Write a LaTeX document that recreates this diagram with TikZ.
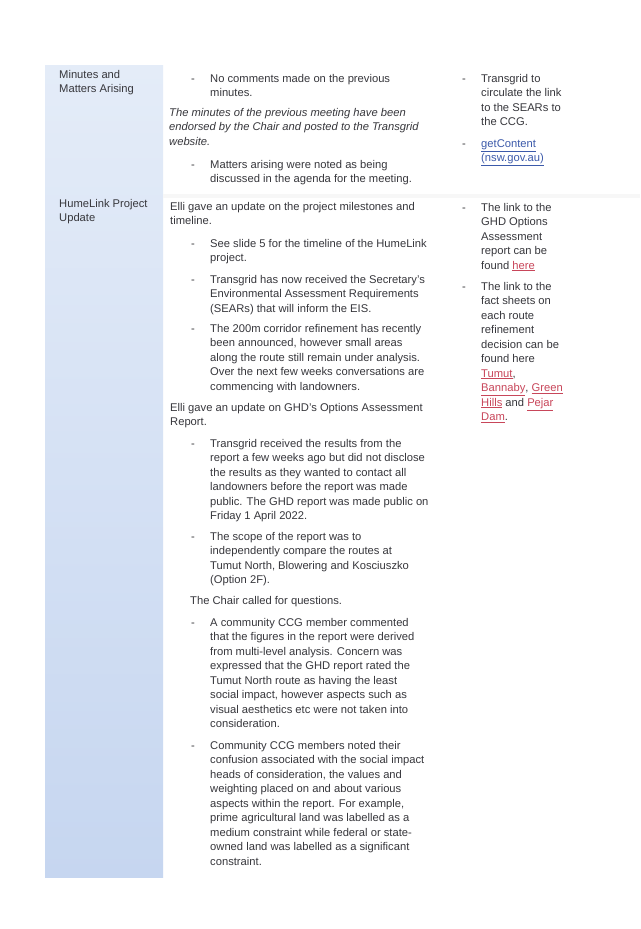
\documentclass[tikz,border=0pt]{standalone}
\usepackage{fontspec}
\setmainfont{Liberation Sans}
\definecolor{ink}{RGB}{55,55,60}
\definecolor{colbg}{RGB}{228,236,248}
\definecolor{colbg2}{RGB}{198,214,240}
\definecolor{linkblue}{RGB}{60,90,170}
\definecolor{linkred}{RGB}{200,70,90}
\newcommand{\lk}[2]{\textcolor{#1}{\underline{#2}}}
\begin{document}
\begin{tikzpicture}[x=1pt,y=-1pt,
  txt/.style={anchor=base west,inner sep=0pt,text=ink,font=\fontsize{11.2}{13}\selectfont},
  itx/.style={txt,font=\fontsize{11.2}{13}\selectfont\itshape}]
\useasboundingbox (0,0) rectangle (640,929);
\fill[white] (0,0) rectangle (640,929);
\shade[top color=colbg,bottom color=colbg2] (45,65) rectangle (163,877);
\fill[black!3] (163,194) rectangle (640,198);
% left column
\node[txt] (a1) at (59,78) {Minutes and};
\node[txt] (a2) at (59,92) {Matters Arising};
\node[txt] (b1) at (59,207) {HumeLink Project};
\node[txt] (b2) at (59,221) {Update};
% middle column
\node[txt] (d1) at (191,82) {-};
\node[txt] (m1) at (210,82) {No comments made on the previous};
\node[txt] (m2) at (210,96) {minutes.};
\node[itx] (m3) at (169,116) {The minutes of the previous meeting have been};
\node[itx] (m4) at (169,130.5) {endorsed by the Chair and posted to the Transgrid};
\node[itx] (m5) at (169,145) {website.};
\node[txt] (d2) at (191,168) {-};
\node[txt] (m6) at (210,168) {Matters arising were noted as being};
\node[txt] (m7) at (210,182.5) {discussed in the agenda for the meeting.};
\node[txt] (m8) at (170,210) {Elli gave an update on the project milestones and};
\node[txt] (m9) at (170,224.5) {timeline.};
\node[txt] (d3) at (191,247) {-};
\node[txt] (n1) at (210,247) {See slide 5 for the timeline of the HumeLink};
\node[txt] (n2) at (210,261) {project.};
\node[txt] (d4) at (191,283) {-};
\node[txt] (n3) at (210,283) {Transgrid has now received the Secretary's};
\node[txt] (n4) at (210,297.5) {Environmental Assessment Requirements};
\node[txt] (n5) at (210,312) {(SEARs) that will inform the EIS.};
\node[txt] (d5) at (191,332) {-};
\node[txt] (n6) at (210,332) {The 200m corridor refinement has recently};
\node[txt] (n7) at (210,346.5) {been announced, however small areas};
\node[txt] (n8) at (210,361) {along the route still remain under analysis.};
\node[txt] (n9) at (210,375.5) {Over the next few weeks conversations are};
\node[txt] (n10) at (210,390) {commencing with landowners.};
\node[txt] (p1) at (170,411) {Elli gave an update on GHD's Options Assessment};
\node[txt] (p2) at (170,425.5) {Report.};
\node[txt] (d6) at (191,447) {-};
\node[txt] (q1) at (210,447) {Transgrid received the results from the};
\node[txt] (q2) at (210,461.5) {report a few weeks ago but did not disclose};
\node[txt] (q3) at (210,476) {the results as they wanted to contact all};
\node[txt] (q4) at (210,490.5) {landowners before the report was made};
\node[txt] (q5) at (210,505) {public. The GHD report was made public on};
\node[txt] (q6) at (210,519.5) {Friday 1 April 2022.};
\node[txt] (d7) at (191,540) {-};
\node[txt] (r1) at (210,540) {The scope of the report was to};
\node[txt] (r2) at (210,554.5) {independently compare the routes at};
\node[txt] (r3) at (210,569) {Tumut North, Blowering and Kosciuszko};
\node[txt] (r4) at (210,583.5) {(Option 2F).};
\node[txt] (s1) at (190,604) {The Chair called for questions.};
\node[txt] (d8) at (191,626) {-};
\node[txt] (t1) at (210,626) {A community CCG member commented};
\node[txt] (t2) at (210,640.5) {that the figures in the report were derived};
\node[txt] (t3) at (210,655) {from multi-level analysis. Concern was};
\node[txt] (t4) at (210,669.5) {expressed that the GHD report rated the};
\node[txt] (t5) at (210,684) {Tumut North route as having the least};
\node[txt] (t6) at (210,698.5) {social impact, however aspects such as};
\node[txt] (t7) at (210,713) {visual aesthetics etc were not taken into};
\node[txt] (t8) at (210,727.5) {consideration.};
\node[txt] (d9) at (191,749) {-};
\node[txt] (u1) at (210,749) {Community CCG members noted their};
\node[txt] (u2) at (210,763.5) {confusion associated with the social impact};
\node[txt] (u3) at (210,778) {heads of consideration, the values and};
\node[txt] (u4) at (210,792.5) {weighting placed on and about various};
\node[txt] (u5) at (210,807) {aspects within the report. For example,};
\node[txt] (u6) at (210,821.5) {prime agricultural land was labelled as a};
\node[txt] (u7) at (210,836) {medium constraint while federal or state-};
\node[txt] (u8) at (210,850.5) {owned land was labelled as a significant};
\node[txt] (u9) at (210,865) {constraint.};
% right column
\node[txt] (e1) at (462,82) {-};
\node[txt] (v1) at (481,82) {Transgrid to};
\node[txt] (v2) at (481,96.5) {circulate the link};
\node[txt] (v3) at (481,111) {to the SEARs to};
\node[txt] (v4) at (481,125.5) {the CCG.};
\node[txt] (e2) at (462,147) {-};
\node[txt] (v5) at (481,147) {\lk{linkblue}{getContent}};
\node[txt] (v6) at (481,161.5) {\lk{linkblue}{(nsw.gov.au)}};
\node[txt] (e3) at (462,211) {-};
\node[txt] (w1) at (481,211) {The link to the};
\node[txt] (w2) at (481,225.5) {GHD Options};
\node[txt] (w3) at (481,240) {Assessment};
\node[txt] (w4) at (481,254.5) {report can be};
\node[txt] (w5) at (481,269) {found \lk{linkred}{here}};
\node[txt] (e4) at (462,290) {-};
\node[txt] (x1) at (481,290) {The link to the};
\node[txt] (x2) at (481,304.5) {fact sheets on};
\node[txt] (x3) at (481,319) {each route};
\node[txt] (x4) at (481,333.5) {refinement};
\node[txt] (x5) at (481,348) {decision can be};
\node[txt] (x6) at (481,362.5) {found here};
\node[txt] (x7) at (481,377) {\lk{linkred}{Tumut},};
\node[txt] (x8) at (481,391.5) {\lk{linkred}{Bannaby}, \lk{linkred}{Green}};
\node[txt] (x9) at (481,406) {\lk{linkred}{Hills} and \lk{linkred}{Pejar}};
\node[txt] (x10) at (481,420.5) {\lk{linkred}{Dam}.};
\end{tikzpicture}
\end{document}
